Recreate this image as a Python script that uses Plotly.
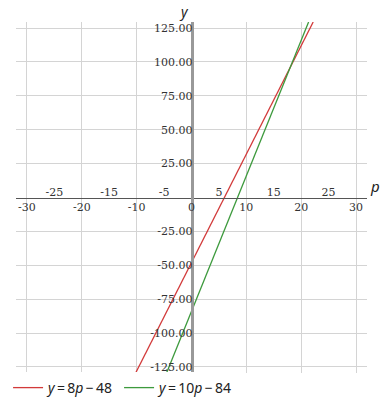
import numpy as np
import plotly.graph_objects as go

# Data
lines = [
    {"name": "<i>y</i>\u2009=\u20098<i>p</i>\u2009−\u200948", "slope": 8, "intercept": -48, "color": "#d23a3a"},
    {"name": "<i>y</i>\u2009=\u200910<i>p</i>\u2009−\u200984", "slope": 10, "intercept": -84, "color": "#3d9a3d"},
]
x_even_ticks = [-30, -20, -10, 0, 10, 20, 30]
x_even_labels = ["-30", "-20", "-10", "0", "10", "20", "30"]
x_odd_ticks = [-25, -15, -5, 5, 15, 25]
x_odd_labels = ["-25", "-15", "-5", "5", "15", "25"]
y_ticks = [-125, -100, -75, -50, -25, 25, 50, 75, 100, 125]
y_labels = ["-125.00", "-100.00", "-75.00", "-50.00", "-25.00",
            "25.00", "50.00", "75.00", "100.00", "125.00"]
x_range = [-32, 32]
y_range = [-129.5, 129.5]

fig = go.Figure()
for ln in lines:
    p0 = (y_range[0] - ln["intercept"]) / ln["slope"]
    p1 = (y_range[1] - ln["intercept"]) / ln["slope"]
    ps = np.array([p0, p1])
    ys = ln["slope"] * ps + ln["intercept"]
    fig.add_trace(go.Scatter(x=ps, y=ys, mode="lines", name=ln["name"],
                             line=dict(color=ln["color"], width=1.3)))

# invisible trace to activate xaxis2
fig.add_trace(go.Scatter(x=[0], y=[0], xaxis="x2", mode="markers",
                         marker=dict(opacity=0), showlegend=False, hoverinfo="skip"))

tickfont = dict(family="DejaVu Serif", size=11, color="#333")
fig.update_layout(
    width=384, height=408,
    margin=dict(l=16, r=17, t=22, b=35, autoexpand=False),
    plot_bgcolor="white", paper_bgcolor="white",
    showlegend=True,
    legend=dict(orientation="h", x=0.021, xanchor="left", xref="container",
                y=0.049, yanchor="middle", yref="container",
                font=dict(family="Noto Sans", size=14, color="#222"),
                itemwidth=30, tracegroupgap=0),
    xaxis=dict(range=x_range, tickvals=x_even_ticks, ticktext=x_even_labels,
               anchor="free", position=0.5,
               showgrid=True, gridcolor="#d4d4d4", gridwidth=1,
               showline=True, linecolor="#555", linewidth=1,
               zeroline=False, tickfont=tickfont, ticks="", ticklabelstandoff=-1),
    xaxis2=dict(range=x_range, tickvals=x_odd_ticks, ticktext=x_odd_labels,
                overlaying="x", side="top",
                anchor="free", position=0.5, showgrid=False,
                showline=False, zeroline=False, tickfont=tickfont, ticks="",
                ticklabelstandoff=-1),
    yaxis=dict(range=y_range, tickvals=y_ticks, ticktext=y_labels, anchor="free",
               position=0.5, showgrid=True, gridcolor="#d4d4d4", gridwidth=1,
               showline=True, linecolor="#999", linewidth=2.5,
               zeroline=False, tickfont=tickfont, ticks="", ticklabelstandoff=-4),
    annotations=[
        dict(text="<i>y</i>", x=0.5, xref="paper", y=1, yref="paper",
             xanchor="right", yanchor="bottom", showarrow=False, xshift=-1, yshift=-1,
             font=dict(family="Noto Sans", size=14, color="#222")),
        dict(text="<i>p</i>", x=1, xref="paper", y=0.5, yref="paper",
             xanchor="left", yanchor="bottom", showarrow=False, xshift=1,
             font=dict(family="Noto Sans", size=15, color="#222")),
    ],
)

fig.write_html("out.html")
